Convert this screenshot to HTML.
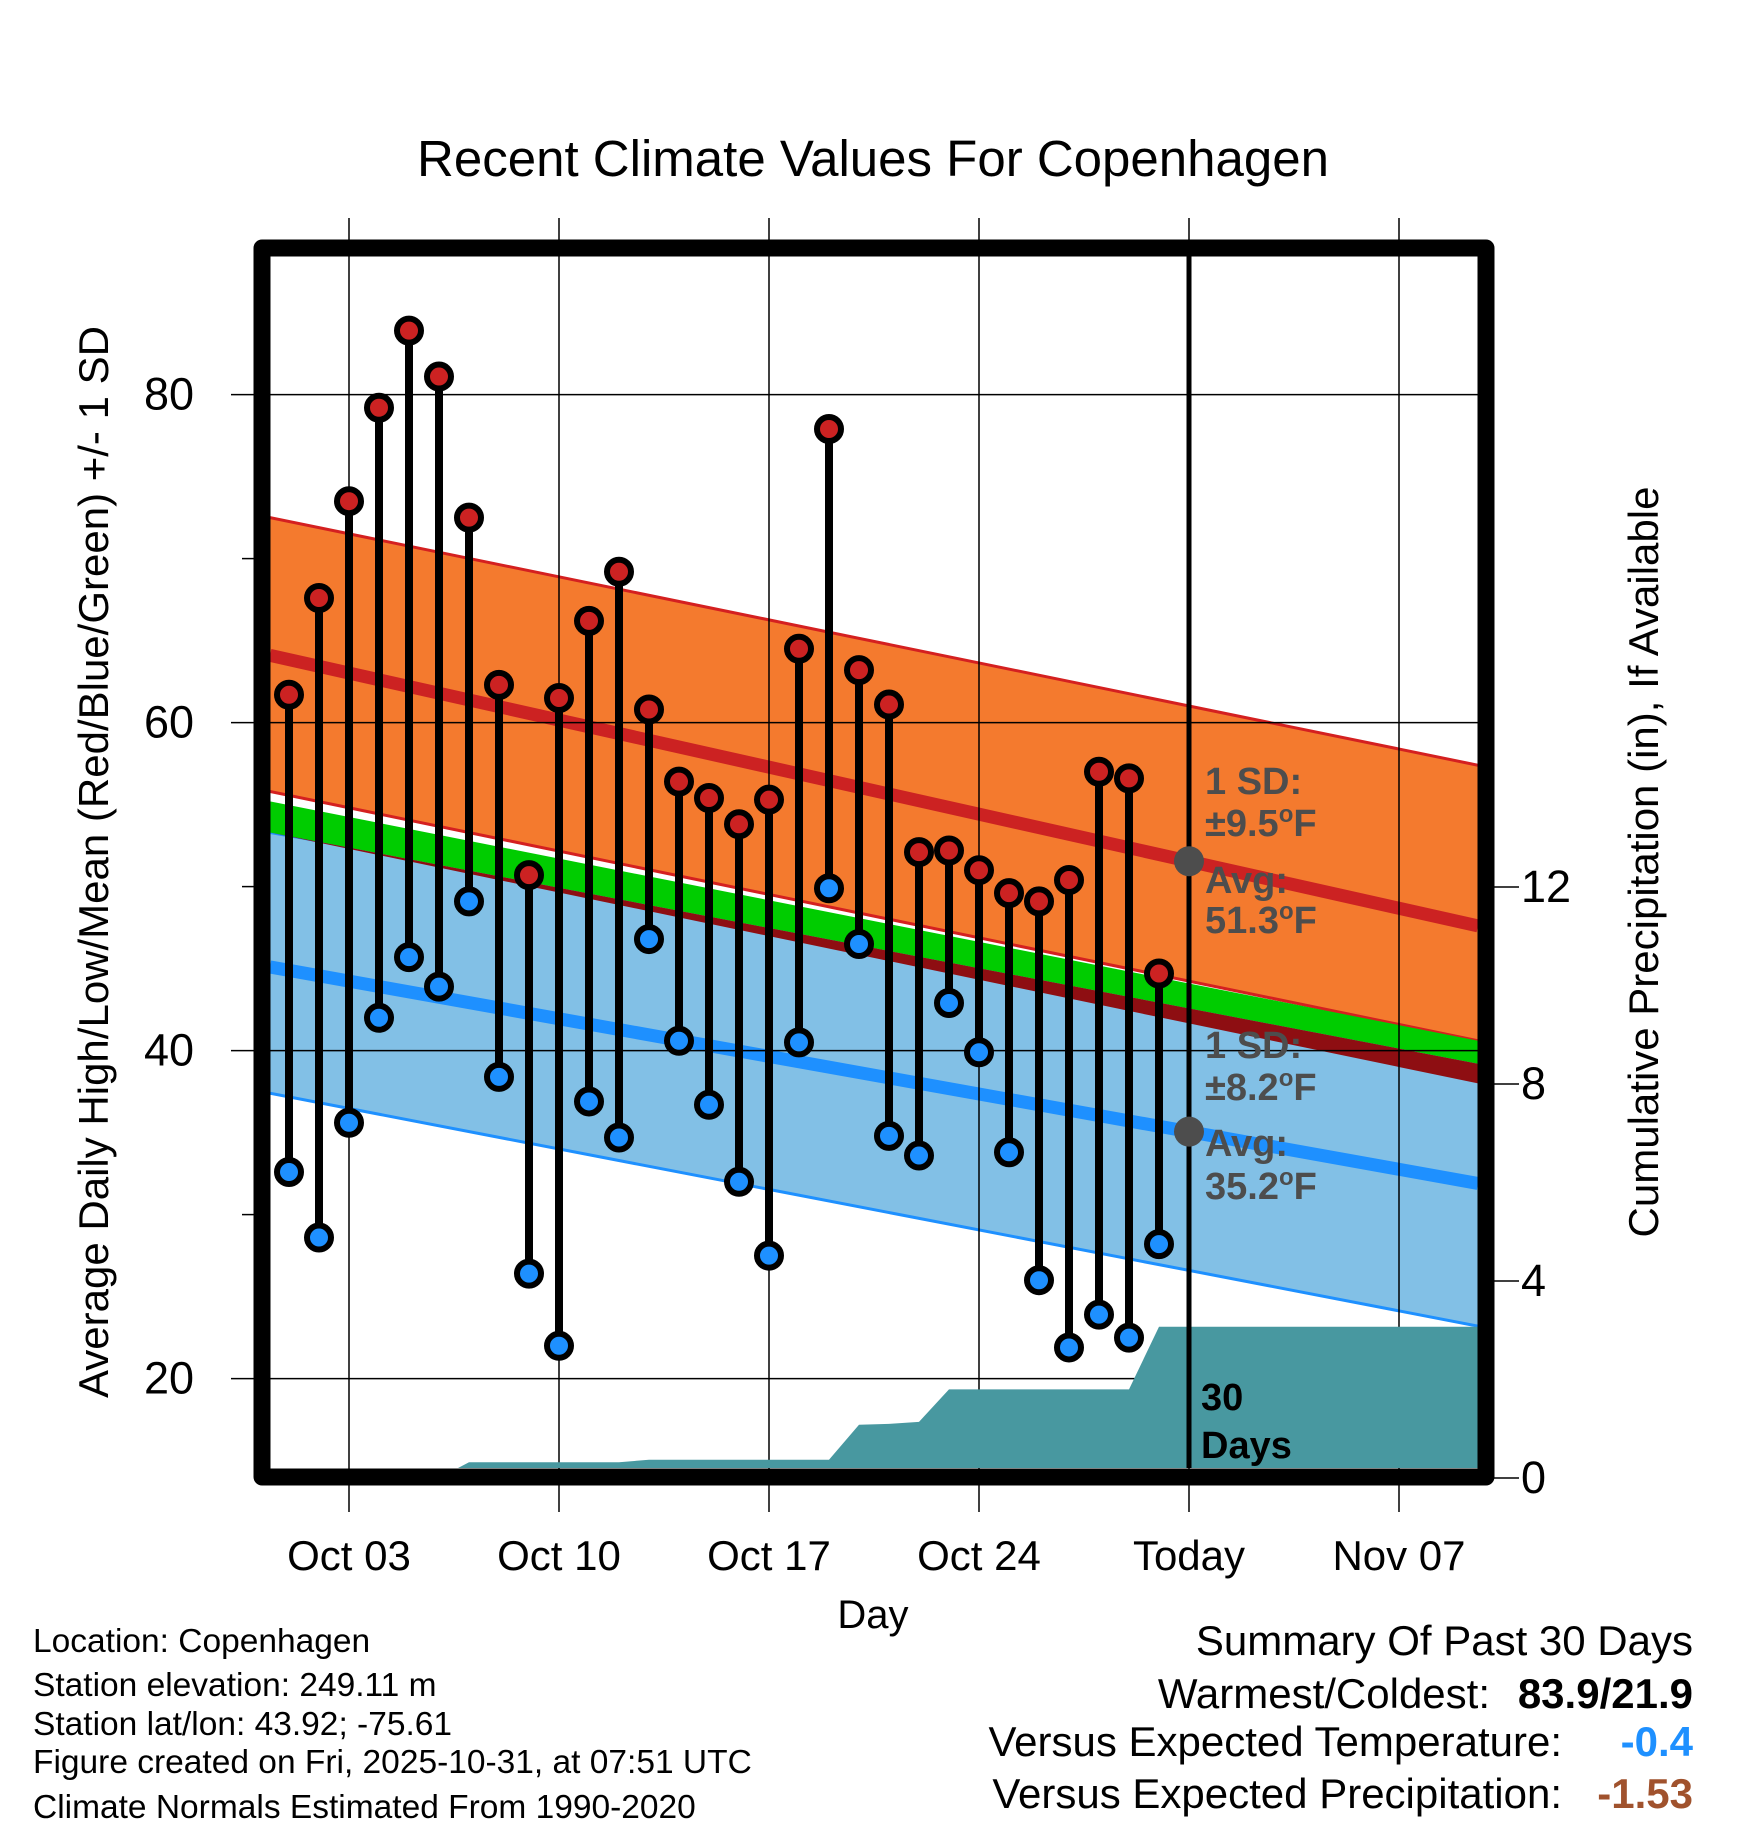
<!DOCTYPE html>
<html><head><meta charset="utf-8"><style>
html,body{margin:0;padding:0;background:#fff;}
svg{display:block;font-family:"Liberation Sans",Arial,sans-serif;}
</style></head><body>
<svg id="chart" width="1748" height="1828" viewBox="0 0 1748 1828" xmlns="http://www.w3.org/2000/svg">
<text x="873" y="176" font-size="51" text-anchor="middle">Recent Climate Values For Copenhagen</text>
<g id="plot"></g>
<text x="873" y="1628" font-size="40" text-anchor="middle">Day</text>
<text transform="translate(108,862) rotate(-90)" font-size="42" text-anchor="middle">Average Daily High/Low/Mean (Red/Blue/Green) +/- 1 SD</text>
<text transform="translate(1658,862) rotate(-90)" font-size="42" text-anchor="middle">Cumulative Precipitation (in), If Available</text>
<g font-size="33.5">
<text x="33" y="1652">Location: Copenhagen</text>
<text x="33" y="1696">Station elevation: 249.11 m</text>
<text x="33" y="1735">Station lat/lon: 43.92; -75.61</text>
<text x="33" y="1773">Figure created on Fri, 2025-10-31, at 07:51 UTC</text>
<text x="33" y="1818">Climate Normals Estimated From 1990-2020</text>
</g>
<g font-size="42" text-anchor="end">
<text x="1693" y="1655">Summary Of Past 30 Days</text>
<text x="1490" y="1708">Warmest/Coldest:</text>
<text x="1693" y="1708" font-weight="bold">83.9/21.9</text>
<text x="1562" y="1756">Versus Expected Temperature:</text>
<text x="1693" y="1756" font-weight="bold" fill="#1e90ff">-0.4</text>
<text x="1562" y="1808">Versus Expected Precipitation:</text>
<text x="1693" y="1808" font-weight="bold" fill="#a0522d">-1.53</text>
</g>
</svg>
<script>
const highs=[61.7,67.6,73.5,79.2,83.9,81.1,72.5,62.3,50.7,61.5,66.2,69.2,60.8,56.4,55.4,53.8,55.3,64.5,77.9,63.2,61.1,52.1,52.2,51.0,49.6,49.1,50.4,57.0,56.6,44.7];
const lows=[32.6,28.6,35.6,42.0,45.7,43.9,49.1,38.4,26.4,22.0,36.9,34.7,46.8,40.6,36.7,32.0,27.5,40.5,49.9,46.5,34.8,33.6,42.9,39.9,33.8,26.0,21.9,23.9,22.5,28.2];
const precip=[0,0,0,0,0,0,0.32,0.32,0.32,0.32,0.32,0.32,0.37,0.37,0.37,0.37,0.37,0.37,0.37,1.08,1.10,1.14,1.8,1.8,1.8,1.8,1.8,1.8,1.8,3.07,3.07];
const normHigh=[64.1,47.6], highUp=[72.5,57.4], highLo=[55.8,40.6];
const normLow=[45.1,31.9], lowUp=[53.3,40.6], lowLo=[37.4,23.2];
const meanTop=[55.2,40.6], meanBot=[53.3,39.2], overlapBot=[53.3,38.0];
const xTickDays=[3,10,17,24,31,38];
const xTickLabels=["Oct 03","Oct 10","Oct 17","Oct 24","Today","Nov 07"];
const yTicks=[20,40,60,80], yMinor=[30,50,70];
const y2Ticks=[0,4,8,12];

const L=270,R=1478,T=256,B=1468;
const xs=d=>349+(d-3)*30;
const ys=v=>394.6-(v-80)*16.4;
const yp=p=>1478-p*49.25;
const NS="http://www.w3.org/2000/svg";
const g=document.getElementById('plot');
function el(tag,attrs,parent){const e=document.createElementNS(NS,tag);for(const k in attrs)e.setAttribute(k,attrs[k]);(parent||g).appendChild(e);return e;}
function lineY(a,x){return ys(a[0]+(a[1]-a[0])*(x-L)/(R-L));}
const defs=el('defs',{});
const cp=el('clipPath',{id:'pc'},defs);el('rect',{x:L,y:T,width:R-L,height:B-T},cp);
const gg=el('g',{'clip-path':'url(#pc)'});
function el2(tag,attrs){return el(tag,attrs,gg);}
(function(){
 const add=(top,bot,fill,name)=>{const p=el2('polygon',{points:`${L},${lineY(top,L)} ${R},${lineY(top,R)} ${R},${lineY(bot,R)} ${L},${lineY(bot,L)}`,fill:fill});};
 const ln=(a,c,w,name)=>{const l=el2('line',{x1:L,y1:lineY(a,L),x2:R,y2:lineY(a,R),stroke:c,'stroke-width':w});};
 add(lowUp,lowLo,'#82c0e6','low-sd-band');
 ln(lowUp,'#1e90ff',3,'low-sd-upper-line');ln(lowLo,'#1e90ff',3,'low-sd-lower-line');
 add(highUp,highLo,'#f47a2e','high-sd-band');
 ln(highUp,'#d42020',3,'high-sd-upper-line');ln(highLo,'#d42020',3,'high-sd-lower-line');
 add(meanTop,meanBot,'#00cc00','mean-band');
 add(meanBot,overlapBot,'#8e0e12','overlap-band');
 ln(normHigh,'#cc2222',13,'normal-high-line');
 ln(normLow,'#1e90ff',13,'normal-low-line');
})();
xTickDays.forEach(d=>{const l=el('line',{x1:xs(d),y1:218,x2:xs(d),y2:1512,stroke:'#000','stroke-width':1.5});});
yTicks.forEach(v=>{const l=el('line',{x1:231,y1:ys(v),x2:R,y2:ys(v),stroke:'#000','stroke-width':1.5});});
yMinor.forEach(v=>{const l=el('line',{x1:242,y1:ys(v),x2:254,y2:ys(v),stroke:'#000','stroke-width':1.5});});
(function(){
 let pts=`${L},${B} `;
 precip.forEach((p,i)=>{pts+=`${xs(i+1)},${yp(p)} `;});
 pts+=`${R},${yp(precip[precip.length-1])} ${R},${B}`;
 const p=el('polygon',{points:pts,fill:'#4898a0','clip-path':'url(#pc)'});
 
 
})();
const tl=el('line',{x1:xs(31),y1:T,x2:xs(31),y2:B,stroke:'#000','stroke-width':5});


[[normHigh,'normal-high-dot'],[normLow,'normal-low-dot']].forEach(([a,n])=>{const c=el('circle',{cx:xs(31),cy:lineY(a,xs(31)),r:15,fill:'#4d4d4d'});});
highs.forEach((h,i)=>{
 const x=xs(i+1);
 const l=el('line',{x1:x,y1:ys(h),x2:x,y2:ys(lows[i]),stroke:'#000','stroke-width':8});
 
 
 const c1=el('circle',{cx:x,cy:ys(h),r:12,fill:'#cc2222',stroke:'#000','stroke-width':6});
 
 
 const c2=el('circle',{cx:x,cy:ys(lows[i]),r:12,fill:'#1e90ff',stroke:'#000','stroke-width':6});
 
 
});
function txt(s,x,y,size,attrs,name){const t=el('text',Object.assign({x:x,y:y,'font-size':size},attrs||{}));t.textContent=s;return t;}
const lab={fill:'#4d4d4d','font-weight':'bold'};
const deg='<tspan dy="-14" font-size="24">o</tspan><tspan dy="14">F</tspan>';
txt('1 SD:',1205,794,38,lab,'high-sd-label');
const t1=txt('',1205,836,38,lab,'high-sd-value');t1.innerHTML='±9.5'+deg;
txt('Avg:',1205,893,38,lab,'high-avg-label');
const t2=txt('',1205,933,38,lab,'high-avg-value');t2.innerHTML='51.3'+deg;
txt('1 SD:',1205,1058,38,lab,'low-sd-label');
const t3=txt('',1205,1100,38,lab,'low-sd-value');t3.innerHTML='±8.2'+deg;
txt('Avg:',1205,1156,38,lab,'low-avg-label');
const t4=txt('',1205,1199,38,lab,'low-avg-value');t4.innerHTML='35.2'+deg;
txt('30',1201,1410,38,{'font-weight':'bold'},'days-label');
txt('Days',1201,1458,38,{'font-weight':'bold'},'days-label-2');
const fr=el('rect',{x:262,y:248,width:1224,height:1229,fill:'none',stroke:'#000','stroke-width':17,'stroke-linejoin':'round'});


yTicks.forEach(v=>{txt(String(v),194,ys(v)+15,45,{'text-anchor':'end'},'y-tick-label');});
y2Ticks.forEach(v=>{
 const l=el('line',{x1:1494,y1:yp(v),x2:1519,y2:yp(v),stroke:'#000','stroke-width':1.5});
 
 
 txt(String(v),1521,yp(v)+15,45,{},'y2-tick-label');
});
xTickDays.forEach((d,i)=>{txt(xTickLabels[i],xs(d),1570,42,{'text-anchor':'middle'},'x-tick-label');});
</script>
</body></html>
